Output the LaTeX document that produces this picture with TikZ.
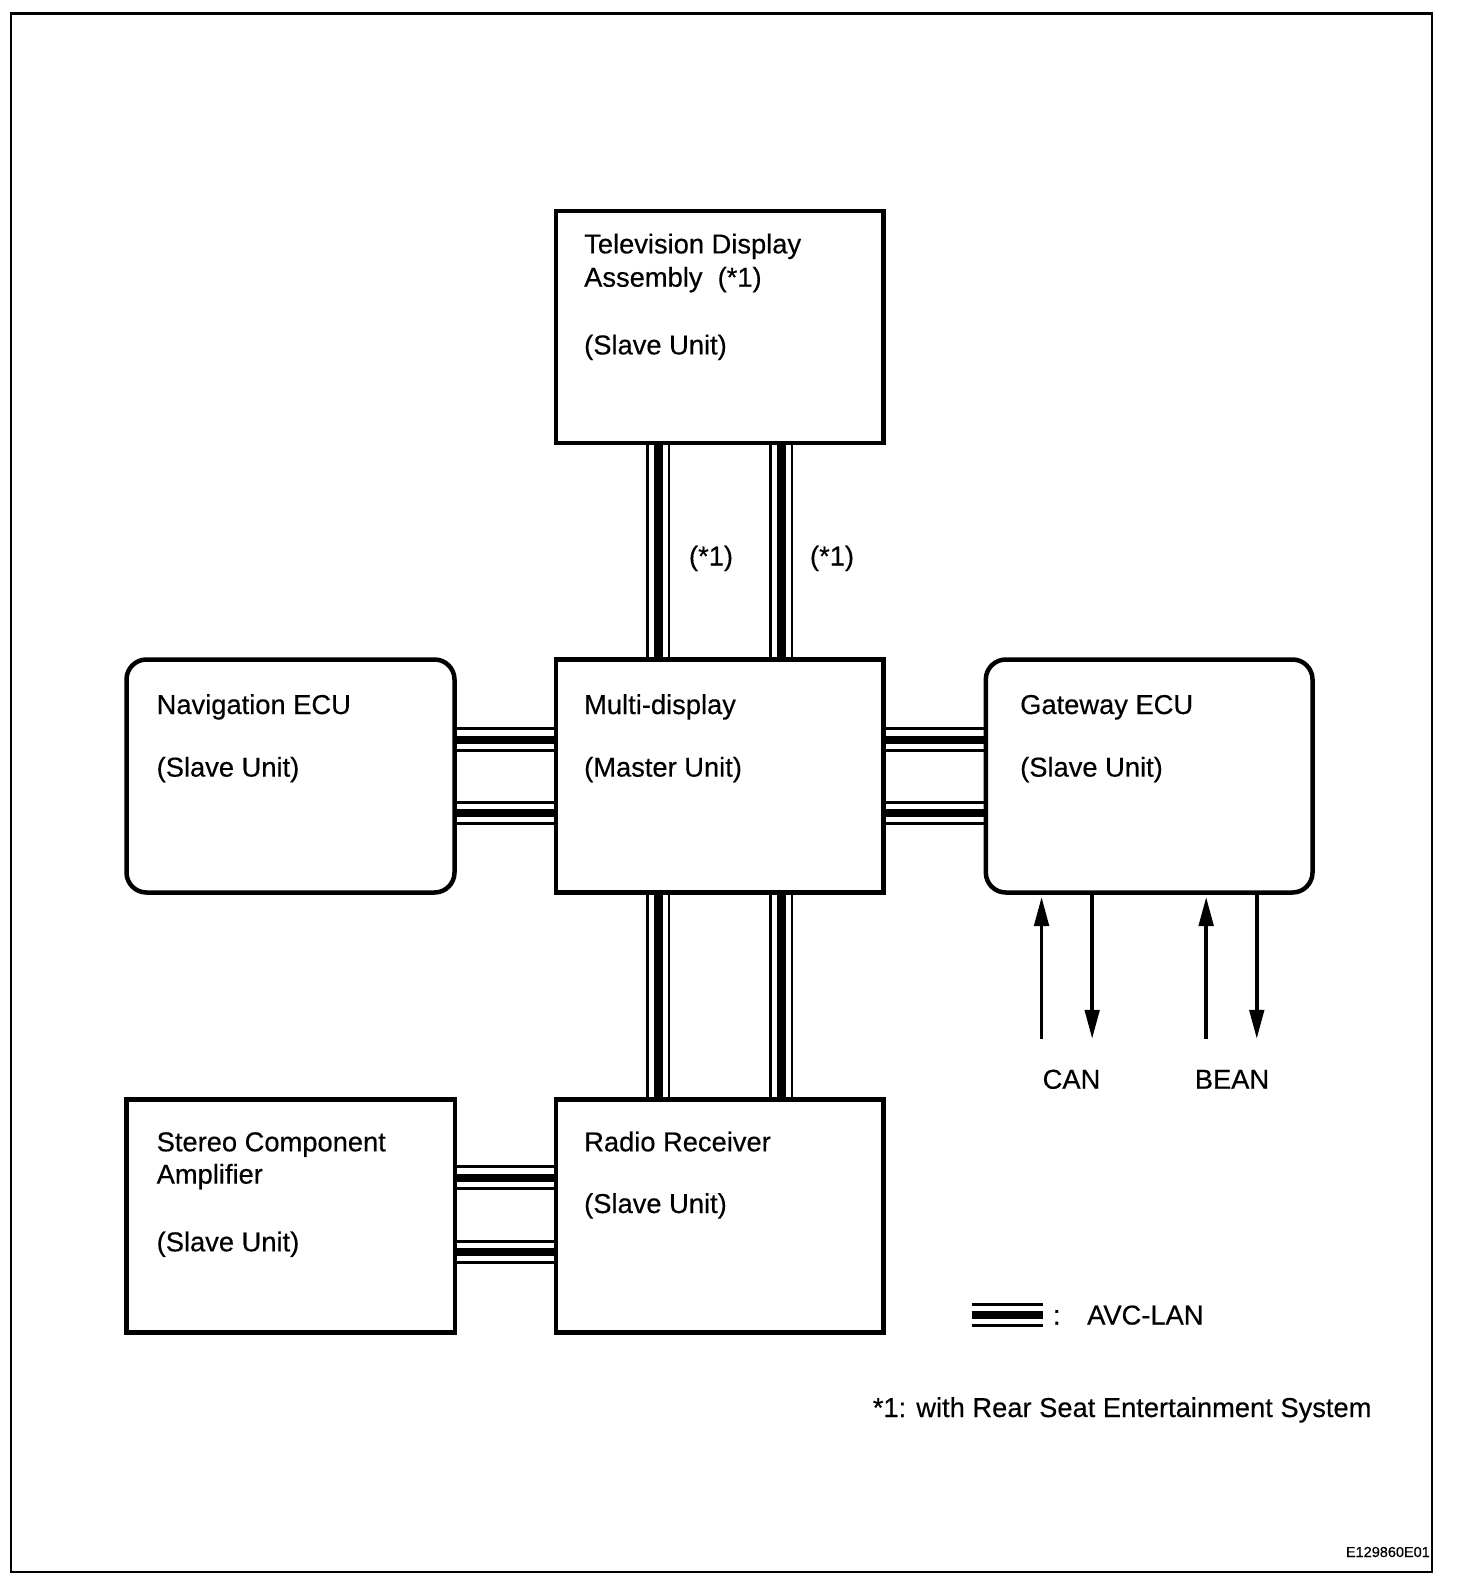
\documentclass[tikz,border=0pt]{standalone}
\usepackage{fontspec}
\setmainfont{Liberation Sans}
\newfontfamily\diagfont{Liberation Sans}[FakeBold=0.4]
\usetikzlibrary{calc,arrows.meta}
\newcommand\vbus[3]{\foreach \d/\w in {-10.7/2.7pt,0/9pt,10.7/2.7pt}{\draw[line width=\w] ($(#1)+(#3+\d,0)$) -- ($(#2)+(#3+\d,0)$);}}
\newcommand\hbus[3]{\foreach \d/\w in {-10.7/2.7pt,0/8pt,10.7/2.7pt}{\draw[line width=\w] ($(#1)+(0,#3+\d)$) -- ($(#2)+(0,#3+\d)$);}}
\begin{document}
\begin{tikzpicture}[x=1pt,y=-1pt,
  box/.style={draw, line width=4.5pt, inner sep=0pt, minimum height=233pt},
  rbox/.style={box, rounded corners=20pt},
  lbl/.style={anchor=base west, inner sep=0pt, font=\diagfont\fontsize{27.3}{33}\selectfont},
  clbl/.style={anchor=base, inner sep=0pt, font=\diagfont\fontsize{27.3}{33}\selectfont},
  arr/.style={line width=3.5pt, -{Triangle[length=29pt,width=14.5pt]}}]
\useasboundingbox (0,0) rectangle (1456,1584);
\draw[line width=2.5pt] (11,13.3) rectangle (1432,1572);
% boxes
\node[box, minimum width=327.5pt, minimum height=232pt] (tv) at (719.75,327) {};
\node[box, minimum width=327.5pt] (mul) at (719.75,776) {};
\node[rbox, minimum width=328pt] (nav) at (290.5,776) {};
\node[rbox, minimum width=326.7pt] (gw) at (1149.15,776) {};
\node[box, minimum width=328.5pt] (ste) at (290.75,1216) {};
\node[box, minimum width=327.5pt] (rad) at (719.75,1216) {};
% texts
\node[lbl] (tv1) at (584,253.4) {Television Display};
\node[lbl] (tv2) at (584,286.7) {Assembly\ \ (*1)};
\node[lbl] (tv3) at (584,354.4) {(Slave Unit)};
\node[lbl] (nav1) at (156.5,714) {Navigation ECU};
\node[lbl] (nav2) at (156.5,776.6) {(Slave Unit)};
\node[lbl] (mul1) at (584,714) {Multi-display};
\node[lbl] (mul2) at (584,776.6) {(Master Unit)};
\node[lbl] (gw1) at (1020,714) {Gateway ECU};
\node[lbl] (gw2) at (1020,776.6) {(Slave Unit)};
\node[lbl] (ste1) at (156.5,1151.3) {Stereo Component};
\node[lbl] (ste2) at (156.5,1183.6) {Amplifier};
\node[lbl] (ste3) at (156.5,1251.3) {(Slave Unit)};
\node[lbl] (rad1) at (584,1151.3) {Radio Receiver};
\node[lbl] (rad2) at (584,1213) {(Slave Unit)};
\node[clbl] (n1a) at (711,565.5) {(*1)};
\node[clbl] (n1b) at (832,565.5) {(*1)};
\node[clbl] (can) at (1071.5,1088.7) {CAN};
\node[clbl] (bean) at (1232,1088.7) {BEAN};
% buses
\vbus{tv.south}{mul.north}{-61.5}
\vbus{tv.south}{mul.north}{61.5}
\vbus{mul.south}{rad.north}{-61.5}
\vbus{mul.south}{rad.north}{61.5}
\hbus{nav.east}{mul.west}{-36.5}
\hbus{nav.east}{mul.west}{37}
\hbus{mul.east}{gw.west}{-36.5}
\hbus{mul.east}{gw.west}{37}
\hbus{ste.east}{rad.west}{-38.5}
\hbus{ste.east}{rad.west}{36}
% arrows
\coordinate (c1) at ($(gw.south)+(-107.6,144)$);
\coordinate (c2) at ($(gw.south)+(-57,144)$);
\coordinate (b1) at ($(gw.south)+(57,144)$);
\coordinate (b2) at ($(gw.south)+(107.6,144)$);
\draw[arr] (c1) -- ($(gw.south)+(-107.6,2.25)$);
\draw[arr] ($(gw.south)+(-57,0)$) -- (c2);
\draw[arr] (b1) -- ($(gw.south)+(57,2.25)$);
\draw[arr] ($(gw.south)+(107.6,0)$) -- (b2);
% legend
\coordinate (lg1) at (971.7,1315);
\coordinate (lg2) at (1042.7,1315);
\hbus{lg1}{lg2}{0}
\node[clbl] (colon) at (1056.7,1324.5) {:};
\node[lbl] (avc) at (1087,1324.5) {AVC-LAN};
\node[lbl] (foot) at (872.6,1417) {*1: with Rear Seat Entertainment System};
\node[anchor=base east, inner sep=0pt, font=\diagfont\fontsize{14.5}{17}\selectfont] (code) at (1430,1557) {E129860E01};
\end{tikzpicture}
\end{document}
